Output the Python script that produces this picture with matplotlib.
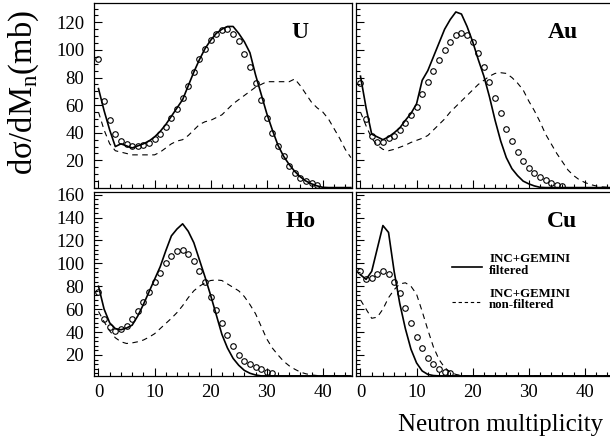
import numpy as np
import matplotlib
matplotlib.use("Agg")
import matplotlib.pyplot as plt
from matplotlib.ticker import MultipleLocator

plt.rcParams["font.family"] = ["Liberation Serif", "DejaVu Serif"]
plt.rcParams["mathtext.fontset"] = "custom"
plt.rcParams["mathtext.rm"] = "Liberation Serif"

# ---------------------------------------------------------------------------
# Data: circles = data, solid = filtered, dashed = non-filtered
# ---------------------------------------------------------------------------
targets = ["U", "Au", "Ho", "Cu"]

u_exp = [93.7, 62.8, 49.5, 38.8, 34, 32, 30.4, 30.4, 31.4, 32.6, 35.7, 39.3, 44,
         50.7, 57.4, 65.4, 74, 84, 93.2, 100.7, 107, 111.8, 114.7, 114.9, 111.8,
         106.2, 97.3, 87.6, 76, 63.5, 51, 39.8, 30.1, 22.9, 15.9, 10.8, 7.2, 4.8,
         3.6, 2.4]
u_filt = [72, 56, 42, 30, 32, 30.5, 29, 30.5, 32, 34, 37, 41, 46, 52, 58, 64, 74,
          84, 93, 101, 107, 112, 115, 117, 117, 112, 106, 98, 82, 68, 54, 42, 31,
          23, 17, 12, 8, 5, 3, 1.5, 0.5, 0.3, 0.3, 0.3, 0.3, 0.3]
u_nonf = [55, 42, 32, 27, 26, 25, 24, 24, 24, 24, 24, 26, 29, 32, 34, 35, 38, 42,
          46, 48, 49, 51, 53, 57, 61, 64, 67, 70, 73, 75, 77, 77, 77, 77, 77, 79,
          74, 68, 62, 58, 55, 50, 43, 36, 28, 22]

au_exp = [76, 50, 38, 33, 33, 36, 38, 42, 47, 53, 59, 68, 77, 85, 93, 100, 106,
          111, 112.5, 111, 105.5, 98, 88, 77, 65, 54, 43, 34, 26, 19.5, 14.7,
          10.8, 7.9, 5.5, 3.6, 2.4, 1.7]
au_filt = [81, 58, 39, 37, 35, 37, 40, 43.5, 49, 54, 61, 78, 85, 95, 105, 115, 122,
           127.5, 126, 117, 106, 93, 81, 66, 49, 34, 22, 14, 9, 5, 3, 1.5, 0.5,
           0.3, 0.3, 0.3, 0.3, 0.3, 0.3, 0.3, 0.3, 0.3, 0.3, 0.3, 0.3, 0.3]
au_nonf = [55, 45, 36, 31, 28, 27, 28, 29.5, 31, 33, 34.5, 36, 38, 42, 46, 50, 55,
           59, 63, 67, 71, 75, 78, 81, 83, 83.5, 83, 80, 76, 71, 63, 56, 48, 39,
           32, 25, 19, 13, 9, 6, 4, 2.5, 1.5, 0.8, 0.5, 0.3]

ho_exp = [75.3, 51.2, 44.2, 41.2, 42.4, 45.3, 51.2, 58.7, 66.6, 75.3, 84, 91.9,
          100.1, 106.7, 110.8, 111.7, 108.2, 102.4, 93.4, 83.8, 70.9, 59.3, 48.2,
          37.2, 27.9, 20.3, 14.8, 11.9, 9.8, 7.5, 5.4, 4]
ho_filt = [80, 60, 48, 43, 42, 43.5, 46, 54, 64, 75, 86, 97, 111, 124, 130, 134.5,
           128, 118, 103, 88, 72, 55, 38, 26, 17, 11, 6.5, 4, 2.5, 1.7, 1.7, 1.7,
           1.7, 1.7, 1.7, 1.7, 1.7, 1.7, 1.7, 1.7, 1.7, 1.7, 1.7, 1.7, 1.7, 1.7]
ho_nonf = [58, 49, 41, 35, 31.5, 30, 30.5, 31.5, 33, 35.5, 38.5, 43, 47.5, 52, 57,
           63, 70, 76, 80, 83, 85, 85.5, 85, 82, 79, 76, 71, 64, 56, 45, 34, 26,
           20, 14.5, 10.5, 7.5, 5, 3.5, 2.5, 2, 1.7, 1.7, 1.7, 1.7, 1.7, 1.7]

cu_exp = [93, 86, 87, 91, 93, 91, 84, 74, 61, 48, 36, 26, 17.6, 12, 7.5, 5.4, 4]
cu_filt = [90, 86, 93, 113, 133, 127, 93, 65, 43, 25, 13, 6, 3, 2, 1.7, 1.7, 1.7,
           1.7, 1.7, 1.7, 1.7, 1.7, 1.7, 1.7, 1.7, 1.7, 1.7, 1.7, 1.7, 1.7, 1.7,
           1.7, 1.7, 1.7, 1.7, 1.7, 1.7, 1.7, 1.7, 1.7, 1.7, 1.7, 1.7, 1.7, 1.7, 1.7]
cu_nonf = [68, 60, 52, 53, 60, 70, 77, 82, 83, 80, 73, 58, 42, 27, 16, 9, 5, 3, 2,
           1.7, 1.7, 1.7, 1.7, 1.7, 1.7, 1.7, 1.7, 1.7, 1.7, 1.7, 1.7, 1.7, 1.7,
           1.7, 1.7, 1.7, 1.7, 1.7, 1.7, 1.7, 1.7, 1.7, 1.7, 1.7, 1.7, 1.7]

x_ticks = [0, 10, 20, 30, 40]
y_ticks_top = [20, 40, 60, 80, 100, 120]
y_ticks_bot = [20, 40, 60, 80, 100, 120, 140, 160]

# ---------------------------------------------------------------------------
# Layout (pixel boxes of the 610x441 original)
# ---------------------------------------------------------------------------
W, H = 610, 441
fig = plt.figure(figsize=(W / 100, H / 100), dpi=100)


def box(x0, y0, x1, y1):
    return [x0 / W, 1 - y1 / H, (x1 - x0) / W, (y1 - y0) / H]


ax_u = fig.add_axes(box(94, 3, 352, 188))
ax_au = fig.add_axes(box(356, 3, 614, 188))
ax_ho = fig.add_axes(box(94, 192, 352, 376))
ax_cu = fig.add_axes(box(356, 192, 614, 376))

panels = [
    (ax_u, "U", u_exp, u_filt, u_nonf, True),
    (ax_au, "Au", au_exp, au_filt, au_nonf, True),
    (ax_ho, "Ho", ho_exp, ho_filt, ho_nonf, False),
    (ax_cu, "Cu", cu_exp, cu_filt, cu_nonf, False),
]

DASH = (0, (5, 4))

for ax, name, exp, filt, nonf, top in panels:
    ax.plot(np.arange(len(nonf)), nonf, color="black", lw=0.8, ls=DASH)
    ax.plot(np.arange(len(filt)), filt, color="black", lw=1.2)
    ax.plot(np.arange(len(exp)), exp, ls="none", marker="o", ms=4.0,
            mfc="none", mec="black", mew=0.8)

    ax.set_xlim(-0.8, 45.2)
    if top:
        ax.set_ylim(0, 134)
        ax.set_yticks(y_ticks_top)
        ax.yaxis.set_minor_locator(MultipleLocator(5))
    else:
        ax.set_ylim(1.6, 162.3)
        ax.set_yticks(y_ticks_bot)
        ax.yaxis.set_minor_locator(MultipleLocator(4))
    ax.set_xticks(x_ticks)
    ax.xaxis.set_minor_locator(MultipleLocator(2))

    ax.tick_params(which="both", direction="in", width=0.8, labelsize=13.5)
    ax.tick_params(which="major", length=5.5)
    ax.tick_params(which="minor", length=2.8)
    ax.tick_params(axis="x", pad=6)
    ax.tick_params(axis="y", pad=7)
    for sp in ax.spines.values():
        sp.set_linewidth(0.9)

    if top:
        ax.tick_params(axis="x", labelbottom=False)
    if ax in (ax_au, ax_cu):
        ax.tick_params(axis="y", labelleft=False)

    ax.text(0.80, 0.84, name, transform=ax.transAxes, ha="center", va="center",
            fontsize=17, fontweight="bold")

# legend drawn by hand inside the Cu panel
leg_x0, leg_x1, leg_tx = 0.372, 0.488, 0.516
for y, ls, lw, label in [(0.592, "-", 1.2, "INC+GEMINI\nfiltered"),
                         (0.404, (0, (3, 2.5)), 0.8, "INC+GEMINI\nnon-filtered")]:
    ax_cu.plot([leg_x0, leg_x1], [y, y], transform=ax_cu.transAxes,
               color="black", lw=lw, ls=ls)
    ax_cu.text(leg_tx, y + 0.012, label, transform=ax_cu.transAxes,
               ha="left", va="center", fontsize=9.3, fontweight="bold",
               linespacing=0.92)

fig.text(24 / W, 1 - 92 / H, "dσ/dM$_\\mathregular{n}$(mb)", rotation=90,
         ha="center", va="center", fontsize=23.5)
fig.text(603 / W, 1 - 425 / H, "Neutron multiplicity", ha="right",
         va="center", fontsize=18)

fig.savefig("out.png", dpi=100)
